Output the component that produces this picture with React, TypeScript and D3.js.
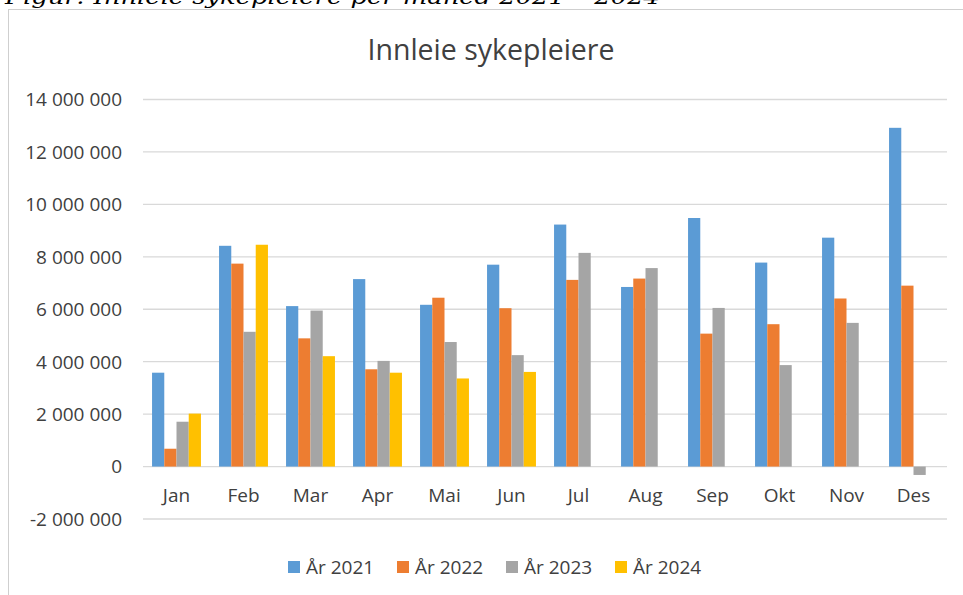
import React, { useEffect, useRef } from 'react';
import * as d3 from 'd3';

const months = ['Jan', 'Feb', 'Mar', 'Apr', 'Mai', 'Jun', 'Jul', 'Aug', 'Sep', 'Okt', 'Nov', 'Des'];
const seriesNames = ['År 2021', 'År 2022', 'År 2023', 'År 2024'];
const year2021 = [3580000, 8420000, 6120000, 7150000, 6170000, 7700000, 9230000, 6850000, 9480000, 7780000, 8730000, 12920000];
const year2022 = [680000, 7740000, 4890000, 3710000, 6440000, 6040000, 7120000, 7170000, 5070000, 5430000, 6410000, 6900000];
const year2023 = [1710000, 5140000, 5950000, 4030000, 4750000, 4250000, 8150000, 7570000, 6050000, 3870000, 5480000, -320000];
const year2024 = [2020000, 8460000, 4210000, 3580000, 3360000, 3610000, null, null, null, null, null, null];
const yTicks = [-2000000, 0, 2000000, 4000000, 6000000, 8000000, 10000000, 12000000, 14000000];
const colors = ['#5B9BD5', '#ED7D31', '#A5A5A5', '#FFC000'];

const App = () => {
  const chartRef = useRef<SVGSVGElement | null>(null);

  useEffect(() => {
    const width = 963;
    const height = 595;
    const plot = { left: 143, right: 947, top: 99.5, bottom: 519 };
    const font = "'Open Sans', sans-serif";
    const textColor = '#404040';
    const series = [year2021, year2022, year2023, year2024];

    const svg = d3.select(chartRef.current);
    svg.selectAll('*').remove();
    svg.attr('width', width).attr('height', height);

    // Caption above the chart (mostly cut off at top, as in the source)
    svg
      .append('text')
      .attr('x', 5)
      .attr('y', 4)
      .attr('font-family', "'DejaVu Serif', serif")
      .attr('font-style', 'italic')
      .attr('font-size', 21)
      .attr('textLength', 655)
      .attr('lengthAdjust', 'spacingAndGlyphs')
      .attr('fill', '#000')
      .text('Figur: Innleie sykepleiere per måned 2021 – 2024');

    // Chart frame
    svg
      .append('rect')
      .attr('x', 8.5)
      .attr('y', 9.5)
      .attr('width', 1000)
      .attr('height', 700)
      .attr('fill', 'none')
      .attr('stroke', '#cfcfcf')
      .attr('stroke-width', 1);

    // Title
    svg
      .append('text')
      .attr('x', 491)
      .attr('y', 60)
      .attr('text-anchor', 'middle')
      .attr('font-family', font)
      .attr('font-size', 28.5)
      .attr('fill', textColor)
      .text('Innleie sykepleiere');

    // Scales
    const xScale = d3
      .scaleBand()
      .domain(months)
      .range([plot.left, plot.right])
      .paddingInner(0.27)
      .paddingOuter(0.135);

    const xInner = d3
      .scaleBand()
      .domain(seriesNames)
      .range([0, xScale.bandwidth()]);

    const yScale = d3
      .scaleLinear()
      .domain([-2000000, 14000000])
      .range([plot.bottom, plot.top]);

    // Norwegian style: space as thousands separator, plain hyphen for minus
    const fmt = (v: number) => d3.format(',')(v).replace(/,/g, ' ').replace('−', '-');

    // Gridlines and y labels
    svg
      .append('g')
      .selectAll('line')
      .data(yTicks)
      .enter()
      .append('line')
      .attr('x1', plot.left)
      .attr('x2', plot.right)
      .attr('y1', (d) => yScale(d))
      .attr('y2', (d) => yScale(d))
      .attr('stroke', '#d9d9d9')
      .attr('stroke-width', 1.3);

    svg
      .append('g')
      .selectAll('text')
      .data(yTicks)
      .enter()
      .append('text')
      .attr('x', 122)
      .attr('y', (d) => yScale(d))
      .attr('dy', '0.36em')
      .attr('text-anchor', 'end')
      .attr('font-family', font)
      .attr('font-size', 19)
      .attr('fill', textColor)
      .text((d) => fmt(d));

    // Bars
    series.forEach((values, si) => {
      svg
        .append('g')
        .selectAll('rect')
        .data(values.map((v, i) => ({ month: months[i], v })).filter((d) => d.v !== null))
        .enter()
        .append('rect')
        .attr('x', (d) => (xScale(d.month) as number) + (xInner(seriesNames[si]) as number))
        .attr('y', (d) => yScale(Math.max(0, d.v as number)))
        .attr('width', xInner.bandwidth())
        .attr('height', (d) => Math.abs(yScale(d.v as number) - yScale(0)))
        .attr('fill', colors[si]);
    });

    // Month labels
    svg
      .append('g')
      .selectAll('text')
      .data(months)
      .enter()
      .append('text')
      .attr('x', (d) => (xScale(d) as number) + xScale.bandwidth() / 2)
      .attr('y', 502)
      .attr('text-anchor', 'middle')
      .attr('font-family', font)
      .attr('font-size', 19)
      .attr('fill', textColor)
      .text((d) => d);

    // Legend
    const legendX = [288, 397, 506, 615];
    const legend = svg
      .append('g')
      .selectAll('g')
      .data(seriesNames)
      .enter()
      .append('g')
      .attr('transform', (d, i) => `translate(${legendX[i]}, 561)`);

    legend
      .append('rect')
      .attr('width', 12)
      .attr('height', 12)
      .attr('fill', (d, i) => colors[i]);

    legend
      .append('text')
      .attr('x', 18)
      .attr('y', 13)
      .attr('font-family', font)
      .attr('font-size', 19)
      .attr('fill', textColor)
      .text((d) => d);
  }, []);

  return (
    <svg
      ref={chartRef}
      style={{ position: 'absolute', left: 0, top: 0, display: 'block' }}
    ></svg>
  );
};

export default App;
